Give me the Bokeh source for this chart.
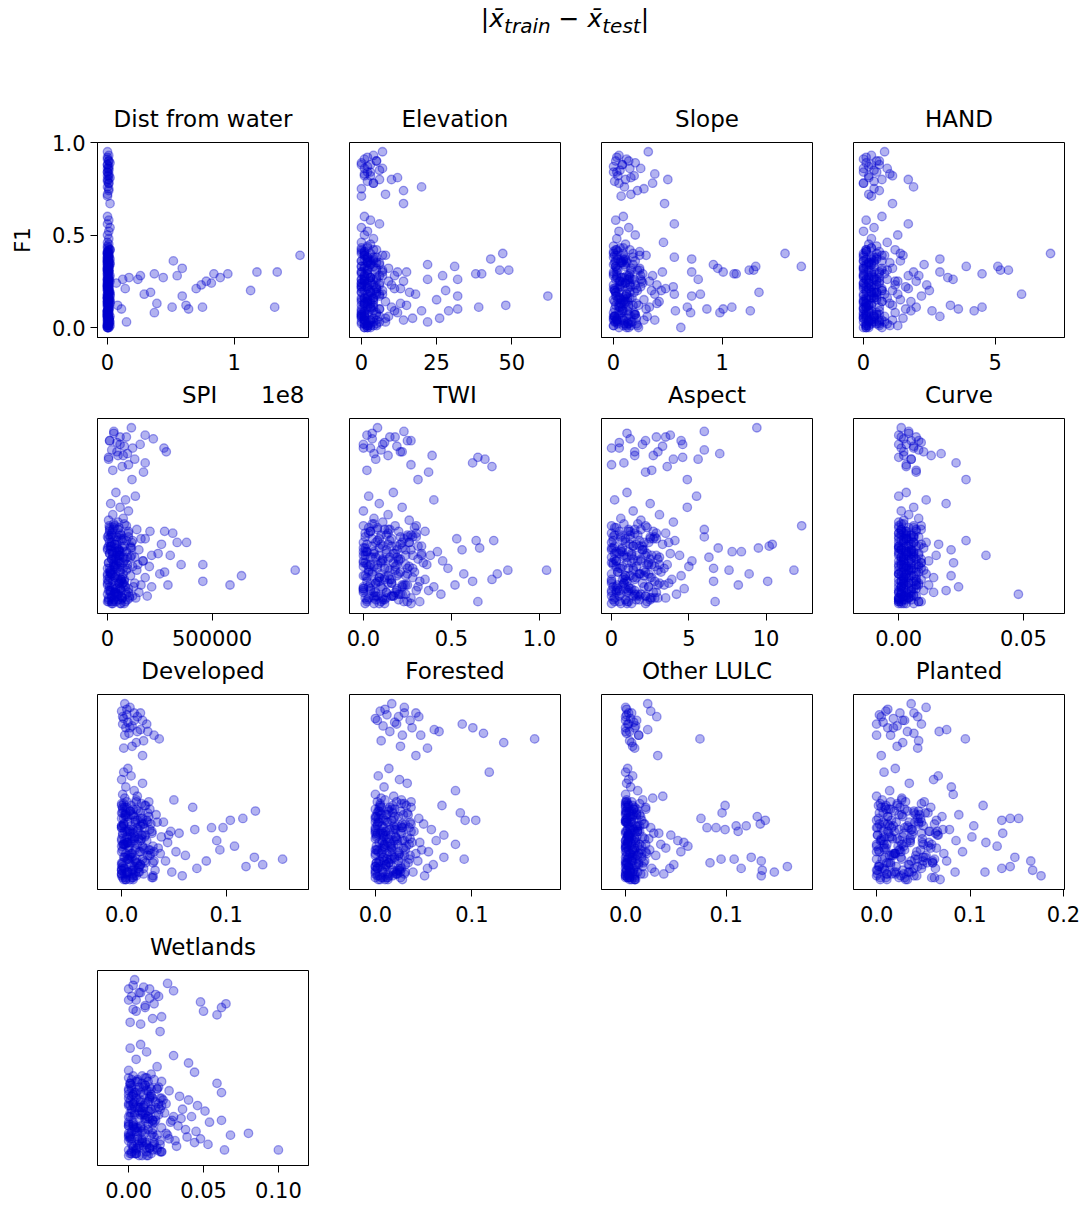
from bokeh.plotting import figure
from bokeh.layouts import column, row
from bokeh.models import Div, Range1d, FixedTicker, PrintfTickFormatter, ColumnDataSource, LinearAxis
from bokeh.embed import file_html
from bokeh.resources import INLINE

# ---------------- data ----------------
# F1 score of each run (x100), shared by all panels
f1_pct = [
    95, 93, 91, 90, 89, 88, 87, 86, 85, 84,
    83, 82, 81, 80, 79, 78, 76, 74, 71, 67,
    60, 58, 56, 54, 52, 50, 48, 46, 45, 44,
    43, 42, 42, 41, 40, 40, 39, 39, 38, 37,
    37, 36, 36, 35, 35, 34, 34, 33, 33, 32,
    32, 31, 31, 30, 30, 29, 29, 28, 28, 27,
    27, 26, 26, 26, 25, 25, 24, 24, 23, 23,
    22, 22, 21, 21, 20, 20, 19, 19, 18, 18,
    17, 17, 16, 16, 15, 15, 14, 14, 13, 13,
    12, 12, 11, 11, 10, 10, 9, 9, 8, 8,
    7, 7, 6, 6, 5, 5, 4, 4, 3, 3,
    35, 30, 27, 25, 22, 18, 14, 10, 6, 2,
    40, 33, 28, 24, 20, 16, 12, 8, 4, 1,
    38, 31, 26, 21, 15, 11, 7, 3, 2, 0,
    29, 23, 19, 13, 9, 5, 4, 1, 1, 0,
    41, 38, 36, 34, 31, 28, 25, 22, 19, 16,
    13, 10, 7, 4, 2, 42, 39, 33, 29, 26,
    24, 21, 17, 14, 11, 8, 5, 3, 1, 0,
    40, 37, 35, 32, 30, 27, 23, 20, 18, 15,
    12, 9, 6, 3, 1, 43, 36, 31, 26, 21,
    16, 11, 6, 2, 38, 28, 19, 9, 4, 0,
    92, 90, 88, 86, 84, 82, 80, 78, 75, 72,
    39, 34, 30, 26, 22, 18, 14, 10, 6, 2,
    37, 33, 29, 25, 21, 17, 13, 9, 5, 1,
    41, 35, 31, 27, 23, 19, 15, 11, 7, 3,
    36, 32, 28, 24, 20, 16, 12, 8, 4, 0,
]

# |mean_train - mean_test| per feature (scaled units noted in the names)
dist_water_1e6 = [
    0, 1, 0, 1, 2, 0, 1, 0, 1, 0,
    1, 0, 2, 1, 0, 1, 0, 1, 0, 2,
    0, 1, 0, 2, 1, 0, 1, 0, 1, 0,
    0, 1, 2, 0, 1, 0, 1, 152, 0, 1,
    0, 52, 1, 0, 2, 1, 0, 1, 0, 59,
    0, 1, 0, 118, 134, 95, 84, 55, 1, 89,
    44, 24, 1, 0, 2, 78, 82, 7, 74, 0,
    0, 1, 70, 14, 113, 0, 34, 1, 29, 0,
    59, 0, 1, 0, 2, 1, 0, 1, 0, 2,
    8, 0, 132, 75, 1, 11, 0, 1, 37, 0,
    0, 1, 0, 2, 1, 0, 1, 0, 15, 1,
    1, 0, 17, 0, 1, 0, 2, 64, 0, 1,
    0, 1, 26, 0, 1, 0, 62, 0, 1, 0,
    1, 0, 12, 0, 1, 51, 0, 1, 0, 1,
    37, 0, 1, 39, 0, 1, 0, 1, 0, 0,
    0, 1, 0, 2, 1, 0, 1, 0, 2, 1,
    0, 1, 0, 1, 0, 2, 0, 1, 0, 1,
    1, 0, 2, 0, 1, 0, 1, 2, 0, 1,
    0, 2, 1, 0, 1, 0, 1, 0, 2, 0,
    1, 0, 1, 0, 2, 1, 0, 1, 0, 1,
    0, 1, 0, 1, 0, 2, 1, 0, 1, 0,
    0, 1, 0, 1, 0, 1, 0, 1, 1, 0,
    1, 0, 1, 0, 0, 1, 0, 1, 0, 1,
    0, 1, 0, 1, 1, 0, 1, 0, 1, 0,
    1, 0, 0, 1, 0, 1, 1, 0, 0, 1,
    0, 0, 1, 0, 1, 0, 0, 1, 1, 0,
]
elevation = [
    7, 4, 1, 5, 0, 3, 2, 1, 6, 2,
    1, 3, 12, 10, 2, 4, 20, 14, 0, 14,
    1, 3, 6, 0, 2, 1, 4, 0, 3, 2,
    2, 0, 5, 1, 47, 3, 1, 8, 2, 43,
    1, 4, 0, 6, 2, 22, 3, 31, 1, 9,
    2, 46, 49, 0, 12, 38, 40, 27, 1, 5,
    3, 32, 22, 0, 14, 1, 6, 2, 10, 4,
    0, 5, 2, 11, 28, 1, 3, 16, 2, 7,
    62, 32, 1, 4, 25, 0, 8, 2, 13, 3,
    48, 1, 39, 3, 32, 6, 29, 20, 0, 12,
    2, 5, 0, 9, 26, 17, 1, 3, 22, 4,
    3, 15, 1, 9, 2, 18, 4, 0, 6, 1,
    1, 4, 11, 0, 7, 2, 15, 5, 1, 3,
    5, 2, 0, 13, 3, 10, 1, 8, 0, 2,
    0, 6, 3, 1, 11, 0, 14, 2, 4, 1,
    1, 4, 0, 6, 2, 7, 3, 0, 5, 1,
    2, 6, 0, 3, 1, 4, 7, 0, 2, 5,
    3, 0, 6, 1, 4, 2, 8, 0, 5, 1,
    0, 2, 5, 1, 7, 3, 0, 4, 6, 2,
    4, 1, 0, 6, 2, 0, 3, 7, 1, 5,
    0, 3, 1, 5, 2, 6, 0, 4, 1, 3,
    2, 5, 0, 7, 3, 1, 6, 4, 0, 8,
    1, 3, 0, 4, 2, 5, 0, 3, 1, 2,
    4, 0, 2, 1, 5, 3, 1, 0, 4, 2,
    0, 2, 5, 3, 1, 0, 4, 2, 0, 3,
    2, 5, 1, 0, 3, 4, 0, 1, 5, 2,
]
slope_x100 = [
    32, 5, 12, 2, 20, 8, 0, 15, 6, 3,
    38, 4, 16, 50, 1, 36, 10, 22, 7, 47,
    9, 2, 56, 14, 5, 20, 3, 46, 11, 0,
    6, 15, 2, 24, 158, 9, 1, 30, 56, 72,
    4, 12, 20, 8, 1, 92, 18, 173, 131, 96,
    3, 129, 125, 101, 72, 113, 111, 14, 25, 7,
    10, 78, 2, 19, 33, 6, 15, 27, 0, 40,
    55, 8, 13, 1, 22, 35, 5, 134, 80, 56,
    72, 3, 17, 9, 28, 0, 42, 11, 6, 21,
    2, 14, 68, 109, 101, 86, 57, 126, 98, 71,
    5, 20, 1, 31, 12, 8, 38, 0, 17, 4,
    7, 45, 3, 26, 16, 38, 9, 30, 1, 13,
    18, 2, 36, 11, 44, 5, 23, 8, 28, 0,
    0, 24, 13, 48, 4, 33, 19, 2, 10, 62,
    27, 6, 15, 40, 9, 21, 3, 12, 0, 5,
    4, 18, 9, 0, 22, 12, 6, 25, 2, 15,
    10, 1, 20, 7, 14, 3, 24, 11, 0, 17,
    8, 21, 2, 13, 5, 19, 0, 16, 9, 23,
    0, 11, 6, 24, 3, 15, 20, 1, 12, 7,
    18, 5, 0, 13, 22, 9, 2, 16, 25, 4,
    6, 14, 1, 21, 10, 0, 19, 8, 3, 12,
    3, 14, 8, 25, 0, 19, 11, 5, 28, 16,
    3, 10, 0, 14, 6, 12, 1, 8, 16, 4,
    9, 2, 15, 5, 0, 11, 7, 13, 3, 16,
    0, 12, 4, 8, 15, 2, 10, 6, 14, 1,
    7, 16, 3, 11, 1, 13, 5, 0, 9, 14,
]
hand_x10 = [
    8, 3, 0, 5, 1, 6, 2, 9, 4, 0,
    10, 11, 2, 17, 4, 0, 19, 6, 3, 11,
    7, 1, 17, 4, 0, 13, 3, 9, 2, 5,
    3, 12, 1, 6, 71, 0, 8, 15, 4, 29,
    5, 0, 14, 2, 10, 23, 1, 39, 51, 7,
    11, 55, 52, 29, 3, 45, 8, 0, 17, 32,
    4, 34, 9, 1, 20, 13, 2, 6, 24, 0,
    16, 3, 7, 0, 11, 25, 5, 1, 60, 13,
    22, 0, 9, 4, 14, 2, 18, 7, 1, 10,
    33, 3, 45, 6, 36, 0, 42, 26, 12, 2,
    5, 0, 29, 8, 1, 15, 3, 11, 0, 6,
    2, 19, 6, 12, 1, 8, 0, 16, 4, 9,
    14, 4, 21, 0, 7, 3, 11, 1, 6, 13,
    0, 9, 2, 17, 5, 20, 1, 8, 3, 0,
    6, 12, 3, 0, 18, 4, 2, 10, 1, 7,
    1, 5, 0, 3, 7, 2, 6, 0, 4, 1,
    3, 0, 6, 2, 5, 1, 7, 0, 3, 4,
    0, 4, 2, 7, 1, 5, 0, 3, 6, 2,
    5, 1, 3, 0, 6, 2, 4, 7, 0, 1,
    2, 6, 0, 4, 1, 3, 7, 0, 5, 2,
    4, 0, 1, 6, 3, 0, 5, 2, 7, 1,
    1, 6, 3, 0, 5, 2, 7, 0, 4, 2,
    0, 2, 4, 1, 3, 5, 0, 2, 4, 1,
    3, 1, 0, 5, 2, 4, 1, 3, 0, 2,
    1, 4, 2, 0, 5, 3, 0, 1, 4, 2,
    4, 0, 3, 2, 1, 5, 2, 0, 3, 1,
]
spi_x1000 = [
    114, 30, 180, 60, 219, 10, 45, 156, 80, 270,
    20, 281, 95, 50, 5, 130, 180, 70, 172, 117,
    40, 133, 86, 15, 60, 100, 25, 75, 5, 50,
    30, 8, 90, 55, 140, 10, 273, 203, 312, 65,
    20, 100, 45, 5, 160, 70, 120, 378, 333, 258,
    35, 80, 15, 110, 0, 55, 150, 25, 90, 242,
    10, 300, 211, 60, 130, 40, 85, 20, 170, 50,
    75, 5, 456, 352, 120, 30, 95, 45, 15, 140,
    273, 60, 250, 20, 641, 110, 35, 180, 0, 80,
    456, 25, 130, 55, 586, 289, 211, 10, 100, 40,
    65, 15, 150, 35, 90, 0, 120, 50, 20, 70,
    180, 45, 25, 95, 60, 898, 10, 160, 40, 5,
    50, 115, 70, 30, 200, 15, 80, 60, 105, 25,
    100, 20, 55, 145, 40, 75, 5, 135, 30, 65,
    15, 170, 35, 65, 125, 45, 190, 0, 85, 20,
    10, 60, 25, 90, 5, 45, 110, 30, 75, 15,
    50, 0, 85, 20, 65, 35, 100, 10, 55, 115,
    40, 95, 15, 70, 0, 60, 30, 105, 20, 80,
    25, 5, 75, 45, 115, 10, 55, 35, 90, 0,
    65, 20, 100, 5, 40, 80, 15, 110, 50, 30,
    0, 70, 35, 95, 20, 55, 10, 85, 45, 60,
    30, 90, 10, 60, 120, 45, 75, 5, 100, 25,
    10, 45, 70, 25, 5, 60, 35, 80, 15, 50,
    55, 20, 0, 75, 40, 10, 65, 30, 50, 5,
    30, 65, 15, 45, 80, 0, 25, 55, 10, 70,
    0, 35, 60, 20, 50, 75, 5, 40, 65, 25,
]
twi_x100 = [
    8, 23, 2, 15, 5, 27, 12, 0, 19, 4,
    10, 21, 6, 39, 65, 69, 62, 73, 37, 31,
    17, 3, 40, 9, 22, 0, 14, 6, 26, 11,
    5, 18, 0, 29, 12, 8, 35, 20, 3, 25,
    10, 1, 30, 53, 16, 74, 64, 7, 22, 14,
    2, 19, 33, 66, 9, 56, 27, 0, 42, 13,
    6, 24, 1, 38, 15, 4, 31, 11, 45, 20,
    0, 17, 8, 36, 26, 3, 12, 48, 82, 104,
    5, 21, 76, 57, 14, 0, 28, 9, 73, 35,
    2, 62, 16, 7, 52, 24, 0, 40, 11, 19,
    4, 30, 13, 0, 22, 44, 8, 17, 3, 27,
    9, 1, 18, 5, 34, 15, 2, 23, 7, 12,
    14, 26, 6, 21, 0, 10, 32, 4, 16, 65,
    1, 11, 28, 4, 19, 7, 37, 13, 2, 9,
    24, 0, 8, 15, 3, 20, 6, 10, 25, 1,
    3, 14, 25, 8, 31, 1, 19, 10, 28, 5,
    12, 22, 0, 17, 7, 30, 4, 26, 13, 33,
    20, 2, 29, 9, 16, 0, 24, 11, 32, 6,
    15, 27, 5, 21, 0, 33, 10, 18, 3, 24,
    8, 31, 13, 1, 23, 6, 28, 16, 0, 19,
    25, 4, 18, 11, 30, 2, 14, 22, 7, 27,
    5, 18, 25, 11, 0, 22, 14, 7, 27, 2,
    4, 15, 22, 9, 1, 18, 12, 25, 6, 20,
    13, 0, 19, 7, 24, 3, 16, 10, 21, 2,
    8, 23, 5, 17, 11, 25, 1, 14, 19, 6,
    21, 10, 2, 14, 6, 20, 9, 0, 16, 12,
]
aspect_x10 = [
    94, 60, 38, 29, 12, 45, 5, 20, 33, 0,
    60, 15, 70, 27, 46, 56, 8, 36, 22, 49,
    10, 55, 2, 25, 49, 14, 31, 6, 19, 40,
    8, 22, 123, 3, 15, 60, 27, 11, 35, 2,
    17, 6, 60, 29, 12, 41, 1, 24, 9, 33,
    104, 102, 14, 95, 69, 0, 21, 84, 78, 38,
    5, 26, 16, 44, 63, 10, 30, 2, 19, 52,
    13, 0, 23, 36, 7, 28, 66, 11, 118, 76,
    4, 32, 89, 18, 45, 9, 26, 14, 0, 39,
    101, 66, 20, 8, 82, 34, 3, 24, 12, 47,
    15, 0, 29, 10, 42, 6, 22, 18, 35, 2,
    25, 7, 13, 31, 1, 21, 16, 4, 27, 9,
    11, 37, 3, 19, 50, 0, 28, 9, 14, 67,
    0, 18, 8, 26, 12, 37, 5, 30, 1, 13,
    20, 3, 34, 7, 24, 15, 0, 11, 23, 6,
    2, 15, 28, 7, 20, 11, 0, 24, 5, 18,
    9, 30, 3, 16, 25, 0, 12, 21, 6, 29,
    14, 1, 22, 8, 31, 4, 17, 26, 10, 0,
    19, 6, 27, 12, 0, 23, 3, 16, 30, 9,
    0, 21, 11, 28, 5, 17, 25, 2, 13, 31,
    24, 8, 0, 18, 29, 6, 14, 1, 22, 10,
    10, 35, 22, 46, 5, 30, 15, 40, 0, 26,
    5, 18, 1, 22, 10, 14, 25, 7, 3, 16,
    12, 0, 20, 8, 24, 4, 15, 11, 19, 2,
    23, 9, 14, 2, 17, 6, 21, 0, 11, 25,
    1, 16, 7, 25, 3, 19, 10, 13, 5, 22,
]
curve_x1000 = [
    1, 4, 0, 7, 2, 5, 9, 3, 6, 1,
    8, 2, 17, 13, 0, 5, 23, 3, 7, 27,
    3, 0, 11, 19, 6, 1, 4, 8, 2, 0,
    2, 6, 0, 4, 9, 1, 3, 7, 0, 5,
    1, 8, 3, 0, 5, 27, 2, 11, 6, 16,
    4, 0, 7, 2, 10, 21, 1, 5, 3, 8,
    0, 35, 15, 3, 6, 1, 9, 2, 4, 12,
    22, 5, 1, 8, 0, 3, 6, 2, 10, 4,
    1, 7, 3, 0, 21, 5, 2, 14, 9, 0,
    6, 2, 4, 0, 8, 3, 1, 24, 5, 2,
    19, 0, 14, 3, 48, 1, 6, 2, 0, 4,
    3, 1, 6, 2, 9, 0, 4, 12, 1, 5,
    7, 2, 0, 5, 3, 11, 1, 6, 2, 0,
    0, 4, 8, 1, 6, 2, 10, 0, 3, 1,
    5, 0, 3, 7, 1, 4, 2, 8, 0, 3,
    0, 3, 6, 1, 8, 4, 2, 9, 5, 0,
    2, 7, 1, 5, 0, 9, 3, 6, 1, 4,
    5, 0, 8, 2, 4, 7, 1, 3, 9, 0,
    1, 6, 3, 9, 0, 5, 2, 8, 4, 1,
    7, 2, 0, 4, 8, 1, 6, 3, 0, 5,
    3, 8, 5, 0, 2, 6, 9, 1, 7, 2,
    4, 1, 8, 0, 6, 10, 2, 5, 3, 7,
    1, 4, 0, 6, 2, 5, 3, 7, 0, 2,
    3, 0, 5, 1, 7, 2, 4, 0, 6, 1,
    6, 2, 0, 3, 1, 4, 7, 2, 5, 0,
    0, 5, 3, 7, 2, 0, 1, 4, 3, 6,
]
developed_x1000 = [
    3, 8, 0, 12, 5, 15, 2, 20, 6, 1,
    10, 4, 18, 25, 7, 31, 36, 14, 2, 20,
    6, 2, 9, 0, 20, 4, 12, 1, 15, 3,
    50, 5, 14, 0, 22, 9, 68, 3, 27, 128,
    8, 18, 1, 33, 11, 4, 26, 116, 0, 104,
    13, 6, 40, 2, 21, 9, 0, 97, 86, 70,
    16, 47, 3, 29, 8, 55, 1, 19, 38, 5,
    12, 0, 91, 24, 6, 44, 15, 2, 108, 30,
    7, 35, 94, 1, 18, 52, 10, 4, 61, 25,
    127, 3, 154, 14, 42, 81, 0, 23, 135, 9,
    119, 17, 72, 2, 32, 11, 48, 5, 21, 0,
    4, 28, 11, 1, 19, 7, 37, 13, 0, 58,
    23, 2, 15, 45, 5, 26, 8, 0, 16, 10,
    1, 34, 6, 12, 0, 20, 9, 3, 30, 4,
    18, 10, 2, 27, 14, 0, 6, 11, 1, 8,
    2, 14, 25, 6, 19, 0, 29, 10, 4, 22,
    8, 31, 1, 17, 12, 26, 5, 20, 0, 15,
    23, 3, 13, 28, 7, 18, 0, 11, 30, 4,
    0, 16, 9, 24, 2, 27, 13, 6, 20, 31,
    10, 1, 21, 5, 29, 14, 0, 25, 8, 18,
    27, 6, 16, 0, 11, 22, 3, 30, 13, 2,
    5, 18, 1, 12, 24, 8, 15, 3, 21, 10,
    1, 12, 20, 5, 16, 0, 9, 22, 3, 14,
    8, 18, 2, 11, 0, 21, 6, 15, 10, 4,
    19, 3, 13, 7, 22, 1, 17, 5, 12, 0,
    4, 15, 0, 20, 9, 13, 2, 18, 6, 11,
]
forested_x1000 = [
    17, 30, 5, 42, 12, 24, 0, 36, 20, 90,
    8, 101, 61, 66, 112, 28, 165, 133, 54, 42,
    14, 118, 3, 25, 33, 9, 83, 0, 19, 6,
    10, 22, 2, 30, 69, 5, 15, 37, 0, 26,
    4, 18, 88, 12, 34, 1, 24, 8, 45, 104,
    93, 13, 3, 28, 50, 7, 19, 0, 35, 58,
    21, 6, 40, 11, 2, 27, 16, 71, 9, 33,
    0, 14, 63, 23, 4, 38, 83, 10, 19, 1,
    29, 7, 48, 17, 3, 55, 12, 25, 0, 36,
    71, 8, 92, 20, 5, 44, 14, 1, 31, 60,
    11, 26, 2, 54, 18, 7, 39, 0, 23, 13,
    6, 31, 15, 0, 22, 9, 42, 4, 27, 51,
    32, 3, 20, 11, 46, 1, 26, 16, 8, 0,
    13, 0, 37, 7, 24, 17, 5, 30, 2, 10,
    2, 21, 9, 30, 14, 0, 19, 6, 12, 3,
    5, 20, 33, 0, 12, 28, 8, 36, 16, 2,
    24, 9, 0, 31, 14, 37, 4, 19, 27, 10,
    1, 30, 17, 6, 35, 11, 23, 0, 26, 13,
    18, 3, 29, 10, 37, 0, 21, 7, 32, 15,
    8, 34, 2, 22, 13, 27, 5, 36, 0, 19,
    31, 12, 25, 4, 17, 9, 35, 1, 22, 28,
    10, 30, 45, 2, 22, 38, 15, 47, 6, 26,
    6, 20, 2, 26, 12, 16, 0, 24, 9, 18,
    14, 0, 22, 5, 28, 10, 17, 3, 25, 8,
    27, 11, 4, 19, 1, 23, 7, 15, 0, 21,
    2, 17, 28, 8, 13, 0, 20, 11, 26, 5,
]
other_lulc_x1000 = [
    22, 0, 25, 3, 1, 31, 5, 0, 8, 2,
    10, 0, 22, 4, 1, 13, 74, 6, 9, 32,
    2, 0, 7, 3, 1, 5, 12, 0, 37, 27,
    1, 6, 0, 14, 99, 3, 9, 2, 20, 0,
    4, 96, 1, 11, 0, 131, 7, 75, 2, 139,
    16, 0, 5, 134, 3, 120, 110, 90, 81, 99,
    8, 112, 1, 12, 28, 0, 4, 45, 17, 2,
    6, 23, 0, 52, 10, 2, 35, 14, 1, 62,
    9, 40, 3, 24, 0, 55, 13, 5, 30, 1,
    125, 7, 95, 108, 135, 19, 84, 0, 48, 11,
    161, 3, 115, 26, 136, 8, 148, 0, 38, 15,
    5, 18, 2, 33, 9, 0, 21, 6, 44, 135,
    0, 11, 25, 3, 58, 7, 16, 1, 29, 4,
    8, 1, 14, 0, 20, 4, 10, 2, 0, 6,
    12, 3, 0, 7, 18, 1, 5, 0, 2, 9,
    0, 8, 3, 15, 1, 11, 5, 19, 2, 7,
    12, 0, 17, 4, 9, 1, 20, 6, 14, 0,
    3, 10, 0, 16, 6, 13, 1, 18, 4, 9,
    7, 1, 14, 0, 19, 5, 11, 2, 16, 8,
    0, 13, 4, 9, 2, 17, 0, 6, 12, 3,
    15, 2, 8, 0, 11, 4, 20, 1, 7, 10,
    1, 6, 0, 11, 3, 9, 0, 13, 4, 7,
    0, 5, 2, 9, 1, 12, 4, 7, 0, 3,
    6, 1, 10, 3, 8, 0, 11, 2, 5, 9,
    2, 8, 0, 12, 4, 6, 1, 10, 3, 0,
    11, 0, 7, 2, 5, 9, 3, 0, 12, 4,
]
planted_x1000 = [
    37, 53, 10, 25, 3, 44, 18, 30, 7, 0,
    22, 12, 75, 67, 40, 15, 95, 28, 44, 5,
    20, 8, 66, 61, 35, 80, 14, 82, 0, 27,
    6, 31, 15, 48, 114, 2, 25, 58, 10, 40,
    19, 3, 52, 27, 88, 12, 70, 152, 143, 134,
    0, 45, 21, 9, 62, 104, 33, 16, 5, 78,
    24, 57, 7, 39, 135, 13, 66, 1, 28, 102,
    17, 49, 4, 85, 36, 117, 11, 59, 129, 23,
    8, 64, 30, 2, 92, 43, 19, 72, 14, 53,
    148, 26, 6, 41, 165, 75, 11, 60, 34, 3,
    143, 21, 134, 48, 167, 9, 116, 84, 29, 16,
    42, 12, 71, 29, 5, 55, 18, 37, 63, 176,
    22, 47, 1, 65, 32, 9, 50, 15, 38, 4,
    13, 35, 56, 7, 26, 44, 3, 20, 0, 31,
    50, 8, 27, 16, 60, 1, 34, 10, 24, 68,
    4, 30, 55, 12, 41, 0, 63, 22, 8, 47,
    18, 60, 2, 35, 26, 51, 9, 44, 14, 65,
    38, 5, 58, 20, 0, 49, 28, 11, 62, 33,
    10, 45, 24, 64, 3, 37, 16, 56, 29, 0,
    52, 13, 40, 1, 59, 27, 7, 48, 19, 36,
    25, 62, 6, 43, 15, 34, 0, 54, 21, 11,
    12, 40, 5, 28, 48, 18, 33, 0, 45, 22,
    5, 28, 45, 12, 36, 0, 20, 50, 8, 40,
    33, 2, 18, 48, 25, 10, 42, 15, 0, 30,
    22, 46, 7, 38, 14, 50, 3, 27, 44, 11,
    40, 16, 30, 1, 49, 24, 9, 35, 19, 4,
]
wetlands_x1000 = [
    4, 26, 10, 0, 30, 7, 18, 2, 14, 5,
    48, 65, 11, 62, 3, 50, 59, 16, 8, 21,
    8, 1, 12, 30, 5, 40, 19, 0, 44, 15,
    3, 11, 0, 17, 6, 22, 59, 9, 1, 14,
    7, 19, 2, 12, 27, 62, 4, 10, 0, 34,
    15, 5, 21, 1, 40, 8, 13, 25, 3, 46,
    0, 10, 18, 6, 36, 2, 51, 14, 24, 9,
    4, 20, 42, 1, 12, 7, 62, 29, 54, 3,
    16, 0, 33, 8, 22, 5, 38, 13, 2, 45,
    80, 11, 26, 68, 1, 17, 6, 48, 31, 0,
    9, 44, 21, 53, 3, 32, 14, 19, 100, 64,
    6, 23, 1, 15, 10, 28, 4, 39, 17, 2,
    13, 3, 20, 9, 35, 0, 25, 7, 12, 5,
    2, 16, 8, 30, 4, 19, 11, 0, 22, 7,
    18, 1, 11, 6, 27, 10, 3, 15, 5, 0,
    2, 11, 19, 5, 14, 0, 21, 8, 16, 3,
    9, 0, 17, 6, 22, 12, 1, 15, 4, 20,
    13, 18, 3, 10, 0, 21, 7, 16, 1, 12,
    5, 20, 0, 14, 8, 22, 2, 11, 17, 6,
    16, 1, 12, 19, 4, 9, 0, 22, 7, 13,
    0, 15, 6, 21, 11, 3, 18, 2, 14, 9,
    3, 14, 8, 20, 0, 17, 11, 5, 22, 1,
    1, 8, 14, 4, 11, 0, 16, 6, 2, 12,
    10, 3, 7, 15, 0, 13, 5, 9, 16, 2,
    6, 13, 0, 10, 4, 16, 8, 1, 12, 5,
    15, 2, 11, 7, 14, 3, 0, 9, 5, 13,
]

feature_names = ["Dist from water", "Elevation", "Slope", "HAND",
                 "SPI", "TWI", "Aspect", "Curve",
                 "Developed", "Forested", "Other LULC", "Planted",
                 "Wetlands"]
feature_values = [
    [v / 100 for v in dist_water_1e6],      # plotted in units of 1e8
    [float(v) for v in elevation],
    [v / 100 for v in slope_x100],
    [v / 10 for v in hand_x10],
    [v * 1000.0 for v in spi_x1000],
    [v / 100 for v in twi_x100],
    [v / 10 for v in aspect_x10],
    [v / 1000 for v in curve_x1000],
    [v / 1000 for v in developed_x1000],
    [v / 1000 for v in forested_x1000],
    [v / 1000 for v in other_lulc_x1000],
    [v / 1000 for v in planted_x1000],
    [v / 1000 for v in wetlands_x1000],
]
x_ticks = [[0, 1], [0, 25, 50], [0, 1], [0, 5],
           [0, 500000], [0.0, 0.5, 1.0], [0, 5, 10], [0.0, 0.05],
           [0.0, 0.1], [0.0, 0.1], [0.0, 0.1], [0.0, 0.1, 0.2],
           [0.0, 0.05, 0.1]]
x_tick_fmt = ["%d", "%d", "%d", "%d",
              "%d", "%.1f", "%d", "%.2f",
              "%.1f", "%.1f", "%.1f", "%.1f",
              "%.2f"]
x_limits = [(-0.079, 1.587), (-3.97, 66.2), (-0.111, 1.833), (-0.38, 7.63),
            (-48077, 961538), (-0.079, 1.119), (-0.65, 13.0), (-0.01815, 0.0665),
            (-0.0231, 0.1788), (-0.0268, 0.1918), (-0.024, 0.186), (-0.0247, 0.2011),
            (-0.0208, 0.1201)]
y_limits = (-0.054, 1.0)
y_ticks = [0.0, 0.5, 1.0]
# the x axis of "Dist from water" is drawn in units of 1e8; its offset text sits beside the SPI title
offset_text = "1e8"

f1 = [v / 100 for v in f1_pct]

FONT = "DejaVu Sans"
COLOR = "#0000CD"
FRAME_W, FRAME_H = 211, 195
NB = "\u00a0"

figs = []
for i, name in enumerate(feature_names):
    col = i % 4
    left = 97 if col == 0 else 21
    title_text = name
    if i == 4:
        title_text = NB * 11 + name + NB * 6 + offset_text
    p = figure(frame_width=FRAME_W, frame_height=FRAME_H,
               min_border_left=left, min_border_right=20,
               min_border_top=40, min_border_bottom=41,
               x_range=Range1d(*x_limits[i]), y_range=Range1d(*y_limits),
               output_backend="svg", toolbar_location=None,
               background_fill_color="white", border_fill_color="white")
    # panel title drawn as the label of an empty axis above the frame
    top_ax = LinearAxis(axis_label=title_text, ticker=FixedTicker(ticks=[]),
                        major_tick_out=0, major_tick_in=0, minor_tick_out=0, minor_tick_in=0,
                        major_label_standoff=0, axis_line_color=None,
                        major_tick_line_color=None, minor_tick_line_color=None,
                        axis_label_standoff=11, axis_label_text_font=FONT,
                        axis_label_text_font_size="23px", axis_label_text_font_style="normal",
                        axis_label_text_color="black")
    p.add_layout(top_ax, "above")
    p.xgrid.visible = False
    p.ygrid.visible = False
    p.outline_line_color = "black"
    p.outline_line_alpha = 1.0
    p.outline_line_width = 1

    src = ColumnDataSource(dict(x=feature_values[i], y=f1))
    p.scatter(x="x", y="y", source=src, size=8.5,
              fill_color=COLOR, fill_alpha=0.3,
              line_color=COLOR, line_alpha=0.37, line_width=1.3)

    xa = p.below[0]
    xa.ticker = FixedTicker(ticks=x_ticks[i])
    xa.formatter = PrintfTickFormatter(format=x_tick_fmt[i])
    ya = p.left[0]
    for ax in [xa, ya]:
        ax.major_label_text_font = FONT
        ax.major_label_text_font_size = "21px"
        ax.major_label_text_color = "black"
        ax.major_tick_out = 7
        ax.major_tick_in = 0
        ax.minor_tick_line_color = None
        ax.major_tick_line_color = "black"
        ax.axis_line_color = "black"
    xa.major_label_standoff = 9
    if i == 0:
        ya.major_label_standoff = 5
        ya.ticker = FixedTicker(ticks=y_ticks)
        ya.formatter = PrintfTickFormatter(format="%.1f")
        ya.axis_label = "F1"
        ya.axis_label_text_font = FONT
        ya.axis_label_text_font_size = "21px"
        ya.axis_label_text_font_style = "normal"
        ya.axis_label_text_color = "black"
        ya.axis_label_standoff = 14
    else:
        ya.visible = False
    figs.append(p)

title_html = (
    '<div style="width:1083px; box-sizing:border-box; padding-left:47px; padding-top:1px; '
    'text-align:center; font-family:\'DejaVu Sans\'; font-size:25px; color:black;">'
    '|<i>x\u0304</i><sub style="font-size:0.8em; vertical-align:-0.3em;"><i>train</i></sub>'
    ' \u2212 <i>x\u0304</i><sub style="font-size:0.8em; vertical-align:-0.3em;"><i>test</i></sub>|'
    '</div>'
)
title_div = Div(text=title_html, width=1083, height=102, margin=(0, 0, 0, 0))

layout = column(
    title_div,
    row(*figs[0:4], spacing=0),
    row(*figs[4:8], spacing=0),
    row(*figs[8:12], spacing=0),
    row(figs[12], spacing=0),
    spacing=0,
)

open("out.html", "w").write(file_html(layout, INLINE, title="F1 vs feature shift"))
